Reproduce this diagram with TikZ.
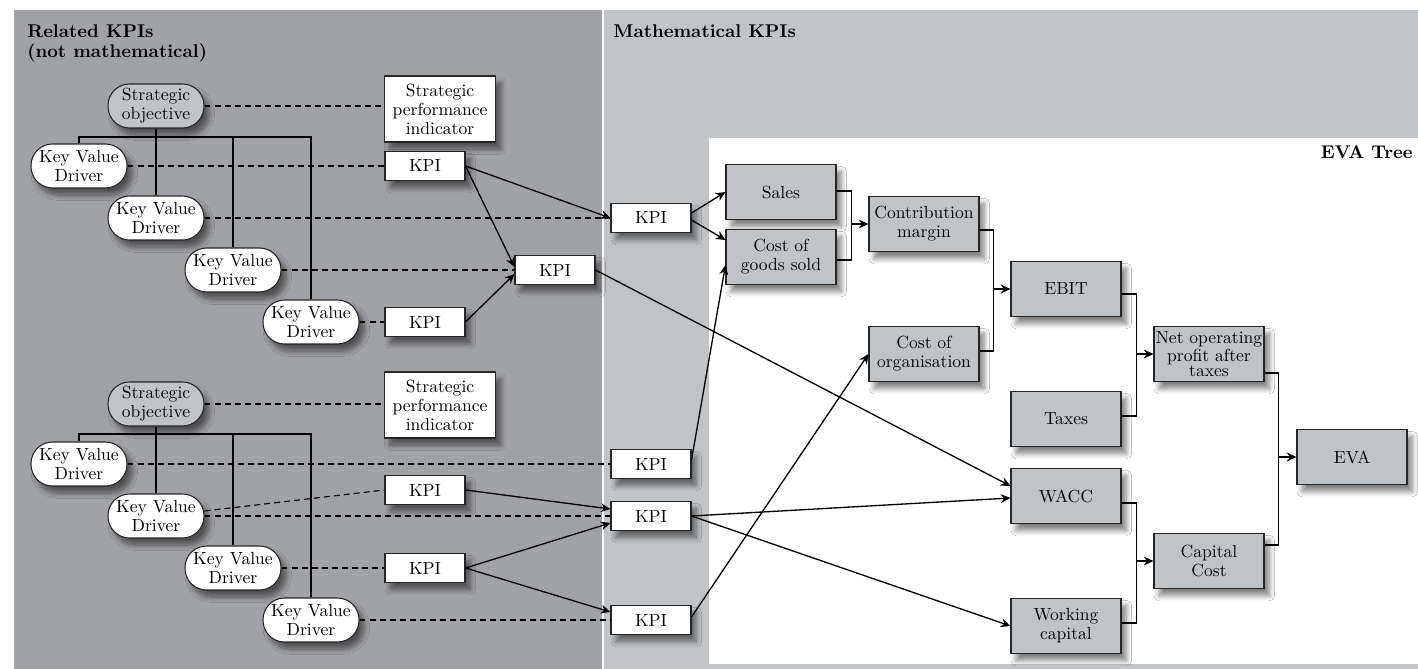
\documentclass[tikz,border=0pt]{standalone}
\usepackage{tikz}
\usetikzlibrary{calc,arrows.meta,shadows.blur}
\definecolor{panelDark}{RGB}{161,162,166}
\definecolor{panelLight}{RGB}{193,196,199}
\tikzset{
	base/.style={draw=black!85, line width=0.6pt, align=center, inner sep=1pt, font=\fontsize{10}{10.8}\selectfont, blur shadow={shadow xshift=3pt, shadow yshift=-4pt, shadow blur radius=3pt, shadow blur steps=8, shadow opacity=50}},
	driver/.style={base, fill=white, rounded corners=0.43cm, minimum width=1.92cm, minimum height=0.88cm},
	objective/.style={driver, fill=panelLight},
	indicator/.style={base, fill=white, minimum width=2.22cm, minimum height=1.32cm},
	kpi/.style={base, fill=white, minimum width=1.6cm, minimum height=0.58cm},
	evabox/.style={base, fill=panelLight, minimum width=2.2cm, minimum height=1.1cm},
	dashline/.style={dash pattern=on 3.4pt off 2.3pt, line width=0.65pt},
	treeline/.style={line width=0.65pt},
	link/.style={-{Stealth[length=5.5pt,width=5pt]}, line width=0.75pt},
	title/.style={font=\fontsize{10.5}{11.5}\selectfont\bfseries, align=left, inner sep=0pt}
}

\begin{document}
\begin{tikzpicture}[x=0.02cm, y=-0.02cm]
		%%%%% START %%%%%
		\useasboundingbox (0,0) rectangle (1418,669);
		\fill[white] (0,0) rectangle (1418,669);
		\fill[panelDark] (14,10) rectangle (602,669);
		\fill[panelLight] (604,10) rectangle (1418,669);
		\fill[white] (709,138) rectangle (1418,664);
		
		\node[title, anchor=north west] (relTitle) at (27,24) {Related KPIs\\(not mathematical)};
		\node[title, anchor=north west] (mathTitle) at (613,24) {Mathematical KPIs};
		\node[title, anchor=north east] (evaTitle) at (1413,145) {EVA Tree};
		
		%%%%% upper objective %%%%%
		\node[objective] (soA) at (156,106) {Strategic\\objective};
		\node[indicator] (spiA) at (440,109) {Strategic\\performance\\indicator};
		\node[driver] (kvdA1) at (79,166) {Key Value\\Driver};
		\node[driver] (kvdA2) at (156,218) {Key Value\\Driver};
		\node[driver] (kvdA3) at (233,270) {Key Value\\Driver};
		\node[driver] (kvdA4) at (311,322) {Key Value\\Driver};
		\node[kpi] (kpiA1) at (425,166) {KPI};
		\node[kpi] (kpiA2) at (425,322) {KPI};
		\node[kpi] (kpiA3) at (555,270) {KPI};
		\node[kpi] (kpiM1) at (651,218) {KPI};
		
		%%%%% lower objective %%%%%
		\node[objective] (soB) at (156,404) {Strategic\\objective};
		\node[indicator] (spiB) at (440,405) {Strategic\\performance\\indicator};
		\node[driver] (kvdB1) at (79,464) {Key Value\\Driver};
		\node[driver] (kvdB2) at (156,516) {Key Value\\Driver};
		\node[driver] (kvdB3) at (233,568) {Key Value\\Driver};
		\node[driver] (kvdB4) at (311,620) {Key Value\\Driver};
		\node[kpi] (kpiB1) at (425,490) {KPI};
		\node[kpi] (kpiB2) at (425,568) {KPI};
		\node[kpi] (kpiC1) at (651,464) {KPI};
		\node[kpi] (kpiC2) at (651,516) {KPI};
		\node[kpi] (kpiC3) at (651,620) {KPI};
		
		%%%%% EVA tree %%%%%
		\node[evabox] (sales) at (781,192) {Sales};
		\node[evabox] (cogs) at (781,257) {Cost of\\goods sold};
		\node[evabox] (cm) at (924,224) {Contribution\\margin};
		\node[evabox] (coo) at (924,354) {Cost of\\organisation};
		\node[evabox] (ebit) at (1066,289) {EBIT};
		\node[evabox] (taxes) at (1066,419) {Taxes};
		\node[evabox] (wacc) at (1066,496) {WACC};
		\node[evabox] (wc) at (1066,626) {Working\\capital};
		\node[evabox, font=\fontsize{10}{8.8}\selectfont] (nopat) at (1209,354) {Net operating\\profit after\\taxes};
		\node[evabox] (capc) at (1209,561) {Capital\\Cost};
		\node[evabox] (eva) at (1352,457) {EVA};
		
		%%%%% tree lines %%%%%
		\coordinate (busA) at (156,137);
		\draw[treeline] (soA.south) -- (kvdA2.north);
		\draw[treeline] (kvdA1.north) -- (kvdA1.north |- busA) -- (kvdA4.north |- busA) -- (kvdA4.north);
		\draw[treeline] (kvdA3.north |- busA) -- (kvdA3.north);
		\coordinate (busB) at (156,434);
		\draw[treeline] (soB.south) -- (kvdB2.north);
		\draw[treeline] (kvdB1.north) -- (kvdB1.north |- busB) -- (kvdB4.north |- busB) -- (kvdB4.north);
		\draw[treeline] (kvdB3.north |- busB) -- (kvdB3.north);
		
		%%%%% dashed links %%%%%
		\draw[dashline] (soA.east) -- (soA.east -| spiA.west);
		\draw[dashline] (kvdA1.east) -- (kpiA1.west);
		\draw[dashline] (kvdA2.east) -- (kpiM1.west);
		\draw[dashline] (kvdA3.east) -- (kpiA3.west);
		\draw[dashline] (kvdA4.east) -- (kpiA2.west);
		\draw[dashline] (soB.east) -- (soB.east -| spiB.west);
		\draw[dashline] (kvdB1.east) -- (kpiC1.west);
		\draw[dashline] ($(kvdB2.east)+(0,-5)$) -- (kpiB1.west);
		\draw[dashline] (kvdB2.east) -- (kpiC2.west);
		\draw[dashline] (kvdB3.east) -- (kpiB2.west);
		\draw[dashline] (kvdB4.east) -- (kpiC3.west);
		
		%%%%% arrows %%%%%
		\draw[link] (kpiA1.east) -- (kpiM1.west);
		\draw[link] (kpiA1.east) -- ($(kpiA3.west)+(0,-3)$);
		\draw[link] (kpiA2.east) -- ($(kpiA3.west)+(0,4)$);
		\draw[link] (kpiA3.east) -- ($(wacc.west)+(0,-10)$);
		\draw[link] ($(kpiM1.east)+(0,-5)$) -- (sales.west);
		\draw[link] ($(kpiM1.east)+(0,2)$) -- ($(cogs.west)+(0,-17)$);
		\draw[link] ($(kpiC1.east)+(0,-4)$) -- ($(cogs.west)+(0,8)$);
		\draw[link] (kpiB1.east) -- ($(kpiC2.west)+(0,-7)$);
		\draw[link] (kpiB2.east) -- ($(kpiC2.west)+(0,7)$);
		\draw[link] (kpiB2.east) -- ($(kpiC3.west)+(0,-8)$);
		\draw[link] (kpiC2.east) -- ($(wacc.west)+(0,2)$);
		\draw[link] (kpiC2.east) -- (wc.west);
		\draw[link] ($(kpiC3.east)+(0,-3)$) -- (coo.west);
		
		%%%%% EVA tree joins %%%%%
		\coordinate (jCM) at ($(cm.west)+(-17,0)$);
		\draw[treeline] ($(sales.east)+(0,-1)$) -| (jCM) |- ($(cogs.east)+(0,3)$);
		\draw[link] (jCM) -- (cm.west);
		\coordinate (jEBIT) at ($(ebit.west)+(-17,0)$);
		\draw[treeline] ($(cm.east)+(0,6)$) -| (jEBIT) |- ($(coo.east)+(0,-3)$);
		\draw[link] (jEBIT) -- (ebit.west);
		\coordinate (jNOPAT) at ($(nopat.west)+(-17,0)$);
		\draw[treeline] ($(ebit.east)+(0,5)$) -| (jNOPAT) |- ($(taxes.east)+(0,-3)$);
		\draw[link] (jNOPAT) -- (nopat.west);
		\coordinate (jCAPC) at ($(capc.west)+(-17,0)$);
		\draw[treeline] ($(wacc.east)+(0,7)$) -| (jCAPC) |- ($(wc.east)+(0,-3)$);
		\draw[link] (jCAPC) -- (capc.west);
		\coordinate (jEVA) at ($(eva.west)+(-18,0)$);
		\draw[treeline] ($(nopat.east)+(0,19)$) -| (jEVA) |- ($(capc.east)+(0,-16)$);
		\draw[link] (jEVA) -- (eva.west);
		%%%%% END %%%%%
\end{tikzpicture}
\end{document}
